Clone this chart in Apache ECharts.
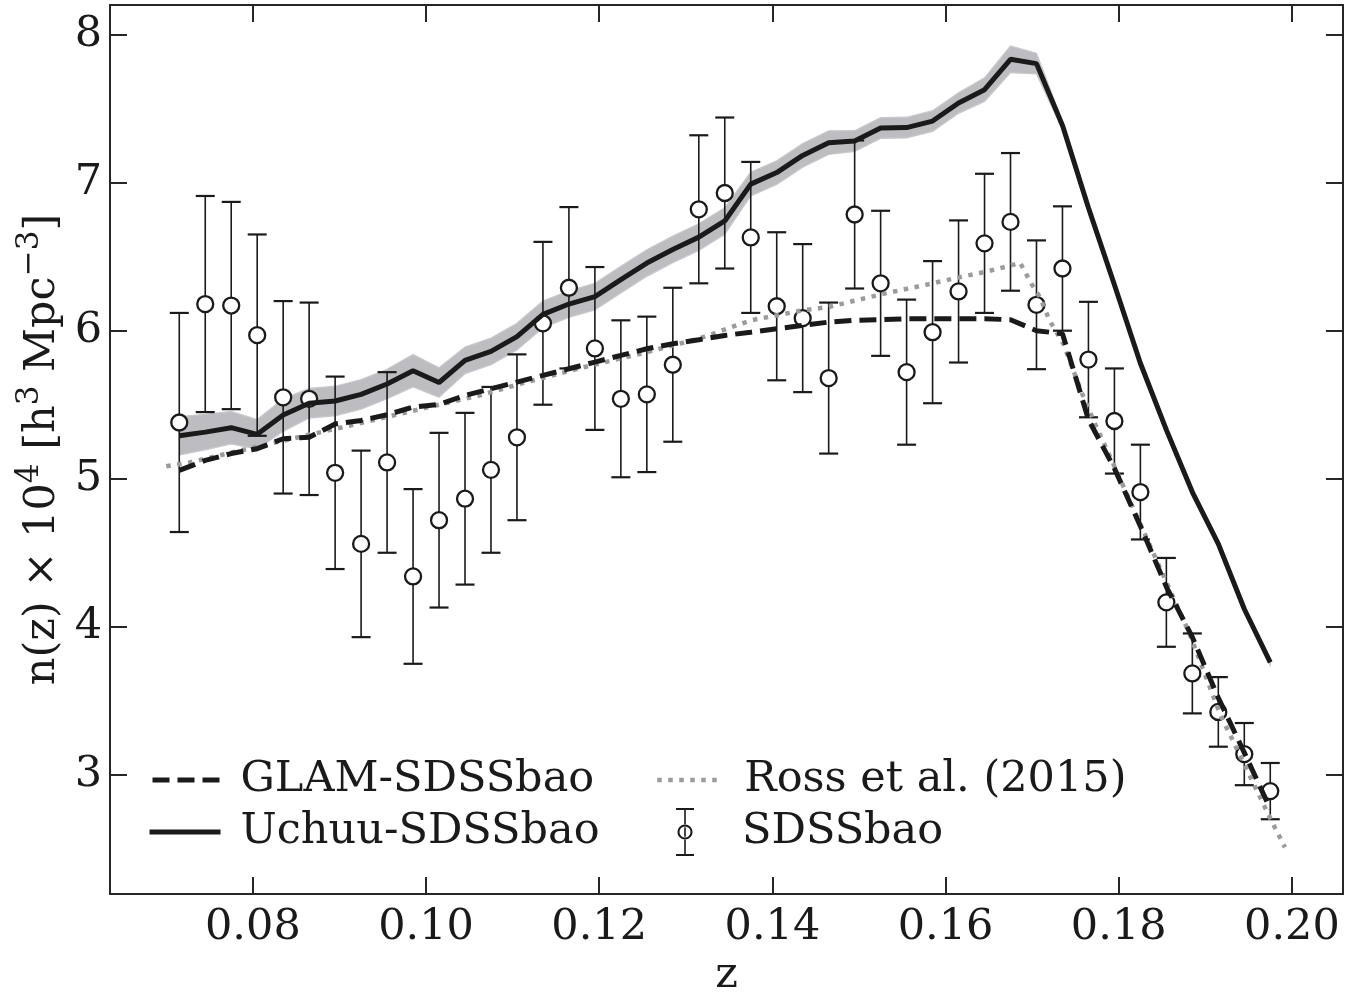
<!DOCTYPE html>
<html>
<head>
<meta charset="utf-8">
<style>
  html, body { margin: 0; padding: 0; background: #ffffff; }
  #chart { width: 1368px; height: 998px; }
</style>
<script src="https://cdn.jsdelivr.net/npm/echarts@6/dist/echarts.min.js"></script>
</head>
<body>
<div id="chart"></div>
<script>
// ---------- data ----------
const zBins = [0.0715,0.0745,0.0775,0.0805,0.0835,0.0865,0.0895,0.0925,0.0955,0.0985,
  0.1015,0.1045,0.1075,0.1105,0.1135,0.1165,0.1195,0.1225,0.1255,0.1285,
  0.1315,0.1345,0.1375,0.1405,0.1435,0.1465,0.1495,0.1525,0.1555,0.1585,
  0.1615,0.1645,0.1675,0.1705,0.1735,0.1765,0.1795,0.1825,0.1855,0.1885,
  0.1915,0.1945,0.1975];

const sdssN = [5.38,6.18,6.17,5.97,5.55,5.54,5.04,4.56,5.11,4.34,
  4.72,4.865,5.06,5.28,6.05,6.29,5.88,5.54,5.57,5.77,
  6.82,6.93,6.63,6.165,6.085,5.68,6.785,6.32,5.72,5.99,
  6.265,6.59,6.735,6.175,6.42,5.805,5.39,4.91,4.165,3.685,
  3.425,3.14,2.89];

const sdssErr = [0.74,0.73,0.70,0.68,0.65,0.65,0.65,0.63,0.61,0.59,
  0.59,0.58,0.56,0.56,0.55,0.545,0.55,0.53,0.525,0.52,
  0.50,0.51,0.51,0.50,0.50,0.51,0.50,0.49,0.49,0.48,
  0.48,0.47,0.465,0.435,0.42,0.39,0.355,0.32,0.30,0.27,
  0.235,0.21,0.19];

const uchuuN = [5.29,5.315,5.345,5.30,5.43,5.51,5.525,5.57,5.64,5.73,
  5.65,5.80,5.86,5.96,6.11,6.18,6.23,6.345,6.457,6.549,
  6.632,6.741,6.99,7.068,7.184,7.27,7.281,7.369,7.372,7.416,
  7.538,7.628,7.833,7.804,7.387,6.83,6.31,5.78,5.33,4.91,
  4.56,4.12,3.76];

const uchuuBand = [0.13,0.12,0.11,0.10,0.11,0.10,0.10,0.10,0.10,0.11,
  0.10,0.09,0.09,0.09,0.09,0.09,0.09,0.09,0.09,0.09,
  0.09,0.09,0.08,0.08,0.08,0.08,0.07,0.07,0.07,0.07,
  0.07,0.08,0.09,0.07,0.03,0.03,0.03,0.025,0.025,0.02,
  0.02,0.02,0.02];

const glamN = [5.056,5.124,5.17,5.203,5.27,5.28,5.37,5.394,5.432,5.484,
  5.502,5.563,5.608,5.653,5.698,5.743,5.788,5.833,5.878,5.912,
  5.939,5.968,5.99,6.013,6.036,6.058,6.07,6.074,6.081,6.081,
  6.081,6.081,6.074,6.0,5.98,5.40,5.07,4.68,4.27,3.93,
  3.52,3.15,2.77];

const rossZ = [0.0700,0.0727,0.0800,0.0860,0.0920,0.1000,0.1060,0.1108,0.1180,0.1255,
  0.1315,0.1375,0.1435,0.1465,0.1525,0.1585,0.1615,0.1645,0.1675,0.1686,
  0.1699,0.1709,0.1720,0.1736,0.1757,0.1770,0.1793,0.1882,0.1917,0.1978,0.1992];
const rossN = [5.085,5.11,5.21,5.29,5.37,5.48,5.56,5.64,5.75,5.855,
  5.946,6.07,6.137,6.16,6.245,6.32,6.36,6.396,6.44,6.46,
  6.318,6.227,6.07,5.912,5.585,5.405,5.11,3.95,3.41,2.67,2.51];

const xTicks = [0.08,0.10,0.12,0.14,0.16,0.18,0.20];
const yTicks = [3,4,5,6,7,8];

// ---------- styling ----------
const FONT = 'DejaVu Serif';
const INK = '#1a1a1a';
const AX = '#262626';
const GREY = '#9b9b9b';
const FS = 43;
const DASH = [17, 8];
const DOT = [4.5, 6.5];

const glamData = zBins.map((z, i) => [z, glamN[i]]);
const uchuuData = zBins.map((z, i) => [z, uchuuN[i]]);
const rossData = rossZ.map((z, i) => [z, rossN[i]]);
const sdssData = zBins.map((z, i) => [z, sdssN[i], sdssErr[i]]);
const bandData = zBins.map((z, i) => [z, uchuuN[i] - uchuuBand[i], uchuuN[i] + uchuuBand[i]]);

function renderBand(params, api) {
  if (params.dataIndex !== 0) return null;
  const upper = bandData.map(d => api.coord([d[0], d[2]]));
  const lower = bandData.map(d => api.coord([d[0], d[1]])).reverse();
  return {
    type: 'polygon',
    shape: { points: upper.concat(lower) },
    style: { fill: '#bdbdc1', stroke: '#c9c9cd', lineWidth: 1.2 }
  };
}

function renderErr(params, api) {
  const z = api.value(0), n = api.value(1), e = api.value(2);
  const c = api.coord([z, n]);
  const t = api.coord([z, n + e]);
  const b = api.coord([z, n - e]);
  const cap = 9.5;
  return {
    type: 'group',
    children: [
      { type: 'line', shape: { x1: c[0], y1: t[1], x2: c[0], y2: b[1] }, style: { stroke: INK, lineWidth: 1.6 } },
      { type: 'line', shape: { x1: c[0] - cap, y1: t[1], x2: c[0] + cap, y2: t[1] }, style: { stroke: INK, lineWidth: 2.2 } },
      { type: 'line', shape: { x1: c[0] - cap, y1: b[1], x2: c[0] + cap, y2: b[1] }, style: { stroke: INK, lineWidth: 2.2 } },
      { type: 'circle', shape: { cx: c[0], cy: c[1], r: 8 }, style: { fill: '#ffffff', stroke: INK, lineWidth: 2.3 } }
    ]
  };
}

const errIcon = 'path://M0 0H18V2H0Z M8.2 2H9.8V16.2H8.2Z ' +
  'M16.6 24A7.6 7.6 0 1 0 1.4 24A7.6 7.6 0 1 0 16.6 24Z ' +
  'M14.5 24A5.5 5.5 0 1 1 3.5 24A5.5 5.5 0 1 1 14.5 24Z ' +
  'M8.2 19.2H9.8V28.8H8.2Z M8.2 31.8H9.8V46H8.2Z M0 46H18V48H0Z';

const legendText = (pad) => ({ fontFamily: FONT, fontSize: FS, color: INK, lineHeight: 50, padding: [0, 0, 0, pad] });
const noSymbol = { opacity: 0 };

const chart = echarts.init(document.getElementById('chart'), null, { renderer: 'canvas' });

const option = {
  backgroundColor: '#ffffff',
  animation: false,
  grid: { left: 110, width: 1233, top: 5, height: 889, containLabel: false, outerBoundsMode: 'none' },
  legend: [
    { data: ['GLAM-SDSSbao'], left: 150, top: 755, padding: 0, itemWidth: 67, itemHeight: 20,
      selectedMode: false, itemStyle: noSymbol, lineStyle: { color: INK, width: 5, type: DASH },
      textStyle: legendText(16) },
    { data: ['Uchuu-SDSSbao'], left: 147, top: 807, padding: 0, itemWidth: 71, itemHeight: 20,
      selectedMode: false, itemStyle: noSymbol, lineStyle: { color: INK, width: 5, type: 'solid' },
      textStyle: legendText(15) },
    { data: ['Ross et al. (2015)'], left: 655, top: 755, padding: 0, itemWidth: 65, itemHeight: 20,
      selectedMode: false, itemStyle: noSymbol, lineStyle: { color: GREY, width: 4.5, type: DOT },
      textStyle: legendText(17) },
    { data: [{ name: 'SDSSbao', icon: errIcon }], left: 676, top: 807, padding: 0, itemWidth: 18, itemHeight: 48,
      selectedMode: false, textStyle: legendText(43) }
  ],
  xAxis: [
    {
      type: 'value', min: 0.0635, max: 0.2059,
      name: 'z', nameLocation: 'middle', nameGap: 57, nameMoveOverlap: false,
      nameTextStyle: { fontFamily: FONT, fontSize: FS, color: INK, lineHeight: 50 },
      axisLine: { show: true, lineStyle: { color: AX, width: 2 } },
      axisTick: { show: true, inside: true, length: 17, customValues: xTicks, lineStyle: { color: AX, width: 2 } },
      axisLabel: { show: true, customValues: xTicks, margin: 9, fontFamily: FONT, fontSize: FS, color: INK, lineHeight: 50,
        formatter: v => v.toFixed(2) },
      splitLine: { show: false }
    },
    {
      type: 'value', min: 0.0635, max: 0.2059, position: 'top',
      axisLine: { show: true, lineStyle: { color: AX, width: 2 } },
      axisTick: { show: true, inside: true, length: 17, customValues: xTicks, lineStyle: { color: AX, width: 2 } },
      axisLabel: { show: false },
      splitLine: { show: false }
    }
  ],
  yAxis: [
    {
      type: 'value', min: 2.195, max: 8.2,
      name: '{a|n(z) × 10}{b|4}{a| [h}{b|3}{a| Mpc}{b|−3}{a|]}',
      nameLocation: 'middle', nameGap: 46, nameRotate: 90, nameMoveOverlap: false,
      nameTextStyle: {
        fontFamily: FONT, fontSize: FS, color: INK,
        rich: {
          a: { fontFamily: FONT, fontSize: FS, color: INK, lineHeight: 50, verticalAlign: 'bottom' },
          b: { fontFamily: FONT, fontSize: 31, color: INK, lineHeight: 24, verticalAlign: 'top' }
        }
      },
      axisLine: { show: true, lineStyle: { color: AX, width: 2 } },
      axisTick: { show: true, inside: true, length: 17, customValues: yTicks, lineStyle: { color: AX, width: 2 } },
      axisLabel: { show: true, customValues: yTicks, margin: 8, fontFamily: FONT, fontSize: FS, color: INK,
        formatter: v => String(v) },
      splitLine: { show: false }
    },
    {
      type: 'value', min: 2.195, max: 8.2, position: 'right',
      axisLine: { show: true, lineStyle: { color: AX, width: 2 } },
      axisTick: { show: true, inside: true, length: 17, customValues: yTicks, lineStyle: { color: AX, width: 2 } },
      axisLabel: { show: false },
      splitLine: { show: false }
    }
  ],
  series: [
    {
      name: 'Uchuu band', type: 'custom', renderItem: renderBand, data: bandData,
      encode: { x: 0, y: [1, 2] }, z: 1, silent: true
    },
    {
      name: 'SDSSbao', type: 'custom', renderItem: renderErr, data: sdssData,
      encode: { x: 0, y: [1] }, itemStyle: { color: INK }, z: 2
    },
    {
      name: 'Ross et al. (2015)', type: 'line', data: rossData, symbol: 'none', showSymbol: false,
      lineStyle: { color: GREY, width: 4.5, type: DOT }, itemStyle: { color: GREY }, z: 3
    },
    {
      name: 'GLAM-SDSSbao', type: 'line', data: glamData, symbol: 'none', showSymbol: false,
      lineStyle: { color: INK, width: 5, type: DASH }, itemStyle: { color: INK }, z: 4
    },
    {
      name: 'Uchuu-SDSSbao', type: 'line', data: uchuuData, symbol: 'none', showSymbol: false,
      lineStyle: { color: INK, width: 5 }, itemStyle: { color: INK }, z: 5
    }
  ]
};

chart.setOption(option);
</script>
</body>
</html>
